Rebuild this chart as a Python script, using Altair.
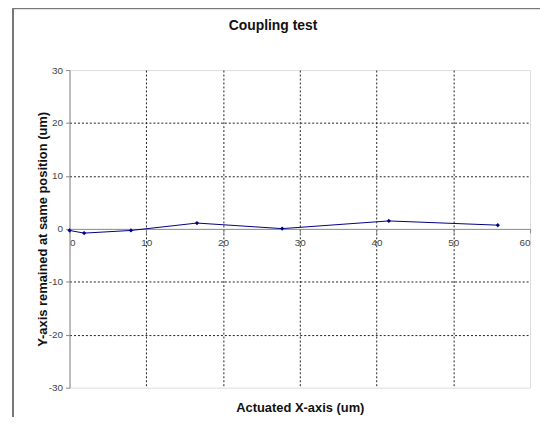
import altair as alt
import pandas as pd

x_vals = [0.0, 1.9, 8.0, 16.6, 27.7, 41.6, 55.8]
y_vals = [-0.3, -0.8, -0.3, 1.1, 0.05, 1.5, 0.7]
x_ticks = [0, 10, 20, 30, 40, 50, 60]
y_ticks = [-30, -20, -10, 0, 10, 20, 30]

df = pd.DataFrame({"x": x_vals, "y": y_vals})

FONT = "Liberation Sans"
NAVY = "#000080"

xscale = alt.Scale(domain=[0, 60], nice=False, zero=False)
yscale = alt.Scale(domain=[-30, 30], nice=False, zero=False)

x_enc = alt.X(
    "x:Q",
    scale=xscale,
    axis=alt.Axis(
        values=x_ticks,
        title="Actuated X-axis (um)",
        titleFont=FONT,
        titleFontSize=13,
        titleFontWeight="bold",
        titleColor="#111",
        titleY=180,
        titleBaseline="middle",
        labelFont=FONT,
        labelFontSize=10,
        labelColor="#444",
        labelPadding=5,
        labelExpr="'' + datum.value",
        offset=-160,
        domainColor="#888",
        tickColor="#888",
        tickSize=4,
        grid=True,
        gridColor="#222",
        gridDash=[2, 2],
        gridWidth=1,
        gridOpacity={"condition": {"test": "datum.value == 0 || datum.value == 60", "value": 0}, "value": 1},
    ),
)

y_enc = alt.Y(
    "y:Q",
    scale=yscale,
    axis=alt.Axis(
        values=y_ticks,
        title="Y-axis remained at same position (um)",
        titleFont=FONT,
        titleFontSize=13,
        titleFontWeight="bold",
        titleColor="#111",
        titleX=-27,
        titleY=160,
        titleAngle=-90,
        titleAlign="center",
        titleBaseline="middle",
        labelFont=FONT,
        labelFontSize=10,
        labelColor="#444",
        labelPadding=3,
        labelExpr="'' + datum.value",
        domainColor="#888",
        tickColor="#888",
        tickSize=4,
        grid=True,
        gridColor="#222",
        gridDash=[2, 2],
        gridWidth=1,
        gridOpacity={"condition": {"test": "abs(datum.value) == 30 || datum.value == 0", "value": 0}, "value": 1},
    ),
)

frame = alt.Chart(df).mark_rect(fill=None, stroke="#777", strokeWidth=1).encode(
    x=alt.value(-57), x2=alt.value(478), y=alt.value(-62), y2=alt.value(420)
)

line = alt.Chart(df).mark_line(color=NAVY, strokeWidth=1).encode(x=x_enc, y=y_enc)
pts = alt.Chart(df).mark_point(filled=True, color=NAVY, shape="diamond", size=18, opacity=1).encode(
    x="x:Q", y="y:Q"
)

chart = (
    alt.layer(frame, line, pts)
    .properties(
        width=464,
        height=320,
        title=alt.TitleParams(
            "Coupling test",
            font=FONT,
            fontSize=14,
            fontWeight="bold",
            color="#111",
            anchor="middle",
            frame="group",
            dx=-27,
            offset=0,
            dy=25,
        ),
        autosize=alt.AutoSizeParams(type="none"),
        padding={"left": 62, "top": 61, "right": 10, "bottom": 28},
    )
    .configure_view(stroke="#999", strokeWidth=1)
    .configure(background="white")
)

chart.save("out.html", embed_options={"renderer": "svg", "actions": False})
